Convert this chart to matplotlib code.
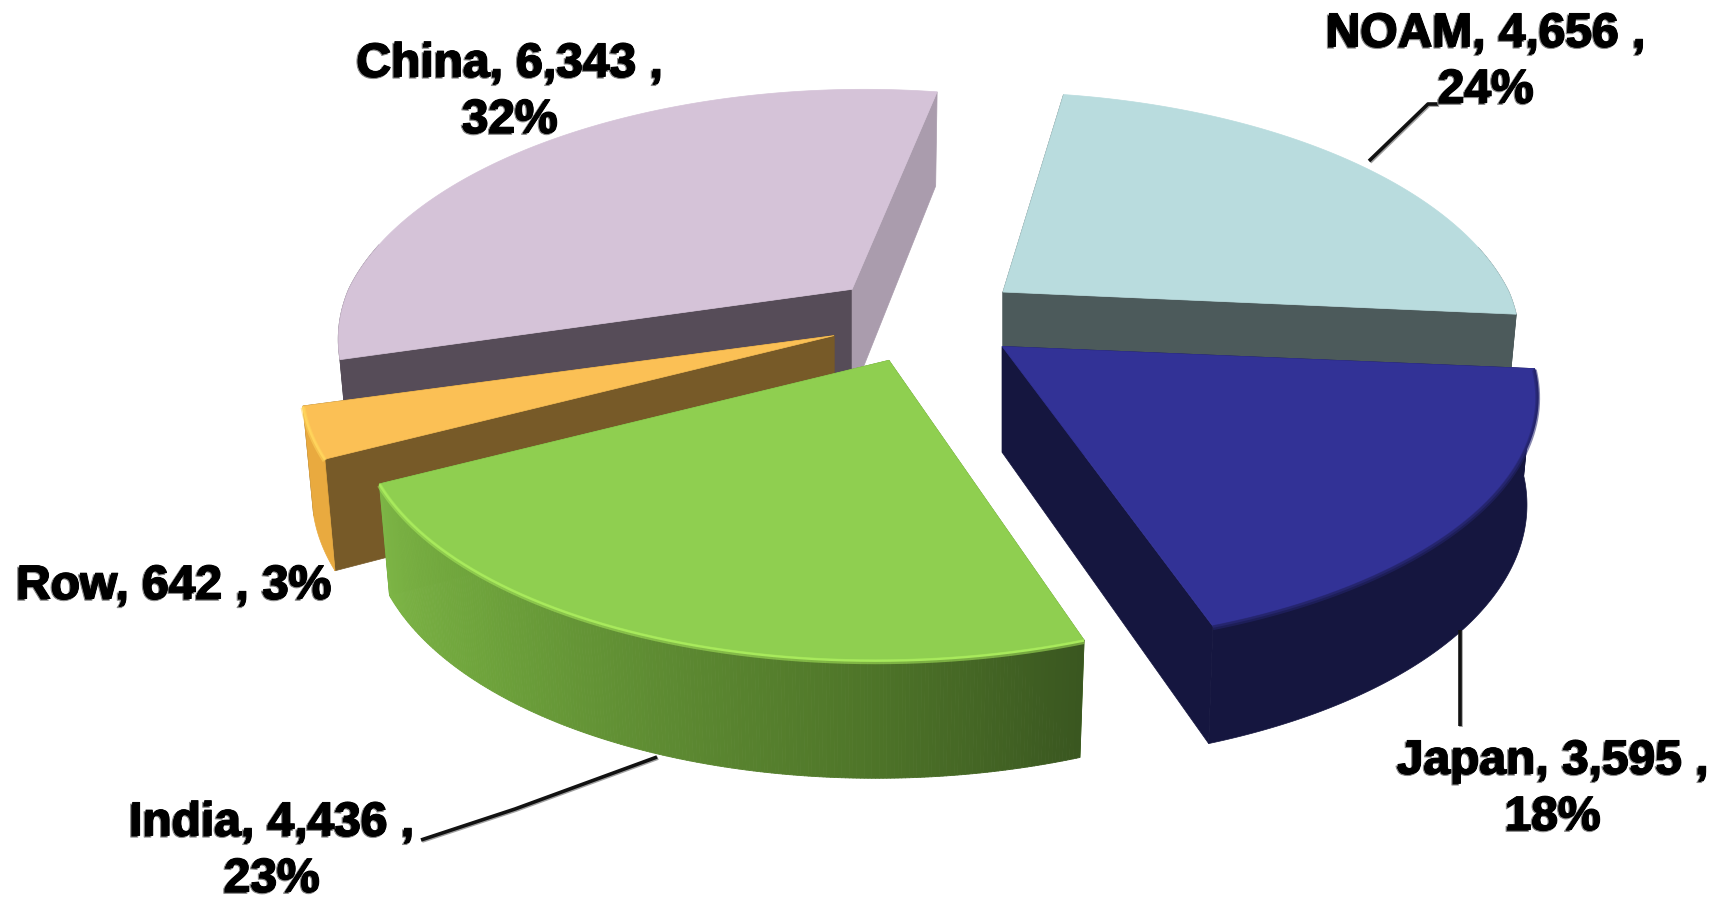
import numpy as np
import matplotlib
matplotlib.use("Agg")
import matplotlib.pyplot as plt
import matplotlib.patheffects as pe
from matplotlib.collections import PolyCollection
from matplotlib.colors import LinearSegmentedColormap
from matplotlib.patches import Polygon

# Regional totals, clockwise from the first slice
regions = ["NOAM", "Japan", "India", "Row", "China"]
values = [4656, 3595, 4436, 642, 6343]

# Colours per region
top_colors = {"NOAM": "#b9dcde", "Japan": "#323296", "India": "#8fcf50",
              "Row": "#fbc055", "China": "#d5c3d8"}
rim_colors = {"Japan": "#25256e", "India": "#a8ea5c", "Row": "#ffd45c"}
outer_colors = {"NOAM": "#4c5a5b", "Japan": "#15163f", "Row": "#e9aa3f", "China": "#564c58"}
# Cut faces: (face at the start angle, face at the end angle)
cut_colors = {"NOAM": ("#4c5a5b", "#4c5a5b"), "Japan": ("#15163f", "#15163f"),
              "India": ("#5f8d33", "#5f8d33"), "Row": ("#775a28", "#775a28"),
              "China": ("#564c58", "#aa9cad")}
india_wall = LinearSegmentedColormap.from_list(
    "india_wall", ["#7db546", "#6fa43c", "#5f8d33", "#4f7629", "#3a5720"])

# Projection of the tilted pie onto the canvas (pixel units)
CX, CY = 925, 319
FX, FY = 530, 240
TILT = 0.2
START_DEG = 10
EXPLODE = 0.185
DEPTH = 106
DEPTH_VAR = 12
BASE_SHRINK = 0.98
# Horizontal foreshortening and shear of each slice once pulled out of the pie
SLICE_SCALE = {"NOAM": 0.955, "China": 0.95, "Row": 0.985, "India": 0.975, "Japan": 0.99}
SLICE_SKEW = {"India": 0.02}

W, H = 1718, 899


def rim(name, apex, theta, lower=False):
    """Screen position of the rim at plan angle theta (clockwise from north)."""
    x, y = np.sin(theta), np.cos(theta)
    w = 1 + TILT * y
    scale = SLICE_SCALE[name] * (BASE_SHRINK if lower else 1.0)
    # The apex offset converges towards the axis as the rim recedes
    ex = apex[0] - CX
    converge = ex / (1 + TILT * np.maximum(y, 0)) - ex
    sx = apex[0] + converge + scale * FX * x / w + SLICE_SKEW.get(name, 0) * FX * np.minimum(y, 0) / w
    sy = apex[1] - FY * y / w
    if lower:
        sy = sy + DEPTH - DEPTH_VAR * y
    return sx, sy


fig = plt.figure(figsize=(W / 100, H / 100), dpi=100, facecolor="white")
ax = fig.add_axes([0, 0, 1, 1])
ax.set_xlim(0, W)
ax.set_ylim(H, 0)
ax.axis("off")

total = sum(values)
angles = {}
cursor = np.radians(START_DEG)
for name, val in zip(regions, values):
    sweep = 2 * np.pi * val / total
    angles[name] = (cursor, cursor + sweep)
    cursor += sweep

# Back slices first so the nearer ones overlap them
for name in ["China", "NOAM", "Row", "India", "Japan"]:
    a, b = angles[name]
    mid = (a + b) / 2
    apex = (CX + EXPLODE * FX * np.sin(mid), CY - EXPLODE * FY * np.cos(mid))
    apex_low = (apex[0], apex[1] + DEPTH)
    th = np.linspace(a, b, 240)
    xt, yt = rim(name, apex, th)

    # Cut faces
    for edge, col in zip((a, b), cut_colors[name]):
        pts = [apex, rim(name, apex, edge), rim(name, apex, edge, lower=True), apex_low]
        ax.add_patch(Polygon(pts, closed=True, fc=col, ec=col, lw=0.5))

    # Curved outer wall, only where it faces the viewer
    wall = th[np.cos(th) < 0.2]
    if wall.size > 1:
        xu, yu = rim(name, apex, wall)
        xl, yl = rim(name, apex, wall, lower=True)
        if name == "India":
            quads = [[(xu[i], yu[i]), (xu[i + 1], yu[i + 1]),
                      (xl[i + 1], yl[i + 1]), (xl[i], yl[i])] for i in range(wall.size - 1)]
            cols = india_wall(1 - np.arange(len(quads)) / (len(quads) - 1))
            ax.add_collection(PolyCollection(quads, facecolors=cols, edgecolors=cols, linewidths=0.6))
        else:
            outline = list(zip(xu, yu)) + list(zip(xl[::-1], yl[::-1]))
            ax.add_patch(Polygon(outline, closed=True, fc=outer_colors[name],
                                 ec=outer_colors[name], lw=0.5))

    # Top face and its bevelled rim
    poly = [apex] + list(zip(xt, yt))
    ax.add_patch(Polygon(poly, closed=True, fc=top_colors[name], ec=top_colors[name], lw=0.5))
    if name in rim_colors:
        ax.plot(xt, yt + 1.5, color=rim_colors[name], lw=3.5, alpha=0.55, solid_capstyle="butt")
        ax.plot(xt, yt + 0.5, color=rim_colors[name], lw=1.6, solid_capstyle="butt")

# Leader lines from the labels to their slices
leaders = [
    ([1369, 1428, 1438], [161, 104, 104]),
    ([1460, 1460], [630, 726]),
    ([421, 515, 657], [840, 809, 757]),
]
for lx, ly in leaders:
    ax.plot(lx, ly, color="#111111", lw=2.6, solid_capstyle="butt", zorder=5,
            path_effects=[pe.SimpleLineShadow(offset=(0.8, -0.8), shadow_color="#777777", alpha=0.7),
                          pe.Normal()])

# Data labels: "name, value ,\npercent%"
label_centres = {"NOAM": (1486, 62), "Japan": (1553, 789), "India": (272, 851),
                 "Row": (174, 586), "China": (510, 92)}
text_fx = [pe.Stroke(linewidth=0.8, foreground="#8a8a8a", offset=(-1.4, -1.2)),
           pe.Stroke(linewidth=0.7, foreground="black"), pe.Normal()]
for name, val in zip(regions, values):
    pct = round(100 * val / total)
    sep = " " if name == "Row" else "\n"
    label = f"{name}, {val:,} ,{sep}{pct}%"
    x, y = label_centres[name]
    ax.text(x, y, label, ha="center", va="center", multialignment="center",
            family="Liberation Sans", weight="bold", fontsize=34.5, color="black",
            linespacing=1.32, zorder=6, path_effects=text_fx)

fig.savefig("out.png", dpi=100, facecolor="white")
